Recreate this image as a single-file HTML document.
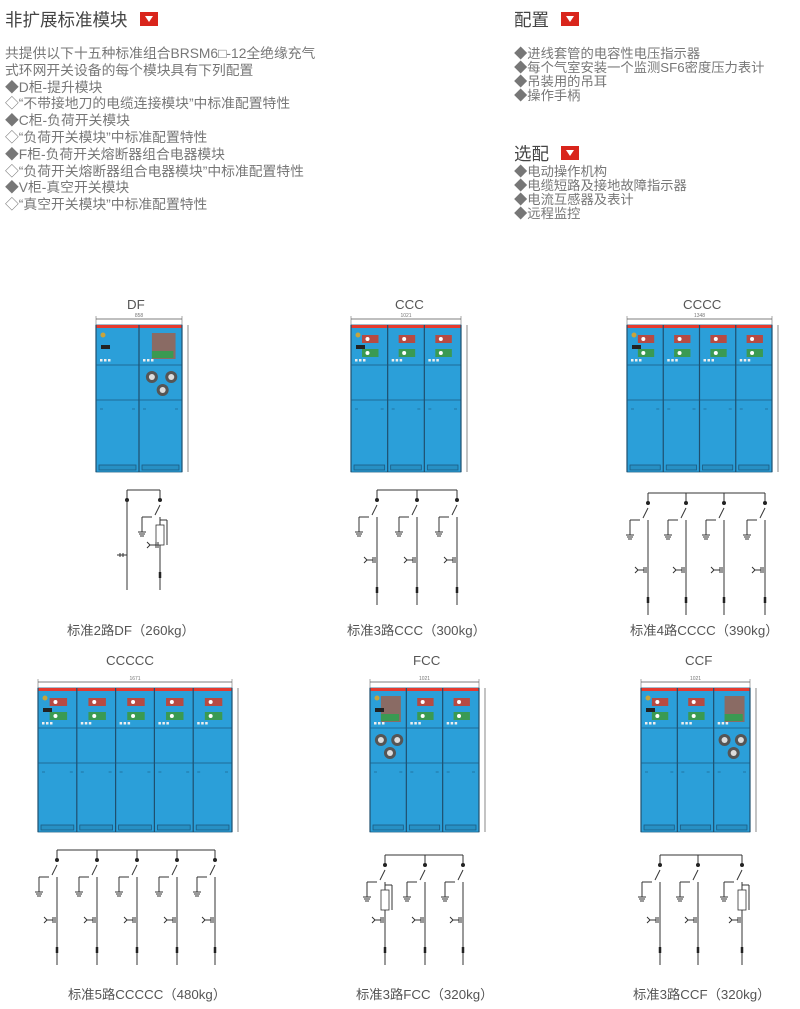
<!DOCTYPE html>
<html><head><meta charset="utf-8"><style>
body{margin:0;width:800px;height:1009px;background:#fff;position:relative;overflow:hidden;font-family:"Liberation Sans","Noto Sans CJK SC",sans-serif;color:#777}
.t{position:absolute;white-space:nowrap}
.h{font-size:17.5px;color:#444}
.b{font-size:13.8px;line-height:16.8px}
.tri{display:inline-block;width:18px;height:14px;background:#d9251c;vertical-align:middle;margin-left:12px;position:relative;top:-2px}
.tri:after{content:"";position:absolute;left:5px;top:4px;border-left:4px solid transparent;border-right:4px solid transparent;border-top:6px solid #fff}
.cap{font-size:13.3px;color:#555}
svg{position:absolute;left:0;top:0}
</style></head><body>
<div class="t h" style="left:5px;top:7px">非扩展标准模块<span class="tri"></span></div>
<div class="t b" style="left:5px;top:46px">共提供以下十五种标准组合BRSM6□-12全绝缘充气<br>式环网开关设备的每个模块具有下列配置<br>◆D柜-提升模块<br>◇“不带接地刀的电缆连接模块”中标准配置特性<br>◆C柜-负荷开关模块<br>◇“负荷开关模块”中标准配置特性<br>◆F柜-负荷开关熔断器组合电器模块<br>◇“负荷开关熔断器组合电器模块”中标准配置特性<br>◆V柜-真空开关模块<br>◇“真空开关模块”中标准配置特性</div>
<div class="t h" style="left:514px;top:7px">配置<span class="tri"></span></div>
<div class="t b" style="left:514px;top:47px;line-height:14px;font-size:13.3px">◆进线套管的电容性电压指示器<br>◆每个气室安装一个监测SF6密度压力表计<br>◆吊装用的吊耳<br>◆操作手柄</div>
<div class="t h" style="left:514px;top:141px">选配<span class="tri"></span></div>
<div class="t b" style="left:514px;top:165px;line-height:14px;font-size:13.3px">◆电动操作机构<br>◆电缆短路及接地故障指示器<br>◆电流互感器及表计<br>◆远程监控</div>
<div class="t cap" style="left:127px;top:297px">DF</div>
<div class="t cap" style="left:395px;top:297px">CCC</div>
<div class="t cap" style="left:683px;top:297px">CCCC</div>
<div class="t cap" style="left:106px;top:653px">CCCCC</div>
<div class="t cap" style="left:413px;top:653px">FCC</div>
<div class="t cap" style="left:685px;top:653px">CCF</div>
<div class="t cap" style="left:67px;top:620px">标准2路DF（260kg）</div>
<div class="t cap" style="left:347px;top:620px">标准3路CCC（300kg）</div>
<div class="t cap" style="left:630px;top:620px">标准4路CCCC（390kg）</div>
<div class="t cap" style="left:68px;top:984px">标准5路CCCCC（480kg）</div>
<div class="t cap" style="left:356px;top:984px">标准3路FCC（320kg）</div>
<div class="t cap" style="left:633px;top:984px">标准3路CCF（320kg）</div>
<svg id="s" width="800" height="1009"></svg>
<script>
var o='';
function R(x,y,w,h,f,s){o+='<rect x="'+x+'" y="'+y+'" width="'+w+'" height="'+h+'" fill="'+f+'"'+(s?' stroke="'+s+'" stroke-width="0.8"':'')+'/>';}
function L(a,b,c,d,s,w){o+='<line x1="'+a+'" y1="'+b+'" x2="'+c+'" y2="'+d+'" stroke="'+(s||'#333')+'" stroke-width="'+(w||1)+'"/>';}
function C(x,y,r,f){o+='<circle cx="'+x+'" cy="'+y+'" r="'+r+'" fill="'+f+'"/>';}
function cab(x,y,w,h,types,dim){
 var n=types.length,cw=w/n;
 L(x,y-6,x+w,y-6,'#555',0.7);L(x,y-9,x,y,'#555',0.5);L(x+w,y-9,x+w,y,'#555',0.5);
 o+='<text x="'+(x+w/2)+'" y="'+(y-8)+'" font-size="5" fill="#777" text-anchor="middle">'+dim+'</text>';
 L(x+w+6,y,x+w+6,y+h,'#555',0.7);
 R(x,y,w,h,'#2b9fd9','#1c5f86');
 R(x,y,w,3,'#e53a2f');
 for(var i=0;i<n;i++){
  var cx=x+i*cw;
  L(cx,y,cx,y+h,'#1f4f6e',1.2);
  L(cx,y+40,cx+cw,y+40,'#1d5a80',0.8);
  L(cx,y+75,cx+cw,y+75,'#1d5a80',0.8);
  R(cx+3,y+h-7,cw-6,5,'#2790c4','#1d5a80');
  var t=types[i];
  if(t=='C'){R(cx+cw*0.3,y+10,cw*0.45,8,'#b74a42');R(cx+cw*0.3,y+24,cw*0.45,8,'#3a9a52');C(cx+cw*0.45,y+14,2,'#fff');C(cx+cw*0.45,y+28,2,'#fff');}
  if(t=='X'){R(cx+cw*0.3,y+8,cw*0.55,26,'#8a6b64');R(cx+cw*0.3,y+26,cw*0.5,7,'#3a9a52');
   C(cx+cw*0.3,y+52,6,'#555');C(cx+cw*0.75,y+52,6,'#555');C(cx+cw*0.55,y+65,6,'#555');
   C(cx+cw*0.3,y+52,3,'#ddd');C(cx+cw*0.75,y+52,3,'#ddd');C(cx+cw*0.55,y+65,3,'#ddd');}
  if(i==0){C(cx+7,y+10,2.5,'#c9a43a');R(cx+5,y+20,9,4,'#222');}
  for(var k=0;k<3;k++)R(cx+4+k*4,y+34,2.5,2.5,'#eee');
  L(cx+4,y+84,cx+7,y+84,'#1d5a80',0.6);L(cx+cw-7,y+84,cx+cw-4,y+84,'#1d5a80',0.6);
 }
 L(x+w,y,x+w,y+h,'#1f4f6e',1.2);
}
function sch(xs,types,by,bot){
 L(xs[0],by,xs[xs.length-1],by,'#333',1);
 xs.forEach(function(x,i){
  var t=types[i];
  L(x,by,x,by+10);C(x,by+10,2,'#222');
  if(t=='D'){L(x,by+10,x,bot);L(x-10,bot-35,x,bot-35);L(x-4,bot-37,x-4,bot-33);L(x-7,bot-37,x-7,bot-33);return;}
  L(x,by+15,x-5,by+25);L(x,by+27,x,bot);
  L(x-8,by+27,x-18,by+27);L(x-18,by+27,x-18,by+42);L(x-22,by+42,x-14,by+42);L(x-21,by+44,x-15,by+44);L(x-20,by+46,x-16,by+46);
  if(t=='F'){R(x-4,by+35,8,20,'#fff','#333');L(x,by+30,x+7,by+30);L(x+7,by+30,x+7,by+55);}
  var yb=bot-45;L(x-10,yb,x-4,yb);L(x-4,yb-3,x-4,yb+3);L(x-2,yb-3,x-2,yb+3);L(x-13,yb-3,x-10,yb);L(x-13,yb+3,x-10,yb);
  L(x,bot-18,x,bot-12,'#222',2.5);
 });
}
cab(96,325,86,147,'DX','858');
cab(351,325,110,147,'CCC','1021');
cab(627,325,145,147,'CCCC','1348');
cab(38,688,194,144,'CCCCC','1671');
cab(370,688,109,144,'XCC','1021');
cab(641,688,109,144,'CCX','1021');
sch([127,160],['D','F'],490,590);
sch([377,417,457],['C','C','C'],490,605);
sch([648,686,724,765],['C','C','C','C'],493,615);
sch([57,97,137,177,215],['C','C','C','C','C'],850,965);
sch([385,425,463],['F','C','C'],855,965);
sch([660,698,742],['C','C','F'],855,965);
document.getElementById('s').innerHTML=o;
</script>
</body></html>
